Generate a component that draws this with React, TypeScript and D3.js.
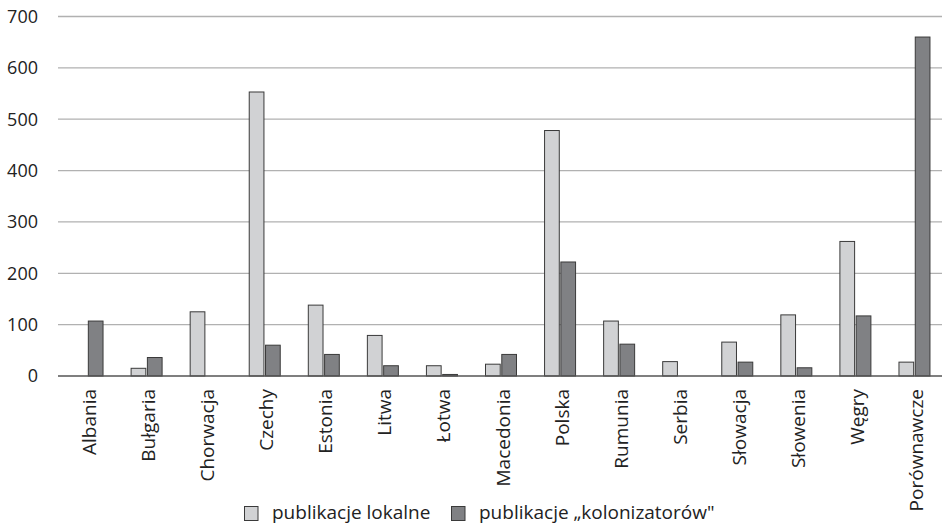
import * as d3 from 'd3';

const WIDTH = 942;
const HEIGHT = 528;
const PLOT = { left: 58, right: 944, top: 16.5, bottom: 376 };
const FONT = '"Open Sans", "Noto Sans", sans-serif';

const countries = [
  'Albania', 'Bułgaria', 'Chorwacja', 'Czechy', 'Estonia', 'Litwa', 'Łotwa',
  'Macedonia', 'Polska', 'Rumunia', 'Serbia', 'Słowacja', 'Słowenia', 'Węgry', 'Porównawcze',
];
const localPubs = [0, 15, 125, 553, 138, 79, 20, 23, 478, 107, 28, 66, 119, 262, 27];
const colonizerPubs = [107, 36, 0, 60, 42, 20, 3, 42, 222, 62, 0, 27, 16, 117, 660];
const seriesNames = ['publikacje lokalne', 'publikacje „kolonizatorów"'];
const seriesColors = ['#d1d2d4', '#808184'];
const yTicks = [0, 100, 200, 300, 400, 500, 600, 700];

export default function App() {
  const x = d3.scaleBand<string>().domain(countries).range([PLOT.left, PLOT.right]);
  const step = x.bandwidth();
  // two bars per country, 14px wide with a 3px gap, centred in the band
  const xInner = d3
    .scaleBand<number>()
    .domain([0, 1])
    .range([step / 2 - 15.5, step / 2 + 15.5])
    .paddingInner(3 / 31);
  const y = d3.scaleLinear().domain([0, 700]).range([PLOT.bottom, PLOT.top]);
  const series = [localPubs, colonizerPubs];

  return (
    <svg
      width={WIDTH}
      height={HEIGHT}
      viewBox={`0 0 ${WIDTH} ${HEIGHT}`}
      style={{ position: 'absolute', left: 0, top: 0, background: '#fff' }}
      fontFamily={FONT}
    >
      {/* Gridlines */}
      {yTicks.slice(1).map((t) => (
        <line key={t} x1={PLOT.left} x2={WIDTH} y1={y(t)} y2={y(t)} stroke="#b1b1b1" strokeWidth={1.3} />
      ))}

      {/* Y-axis labels */}
      {yTicks.map((t) => (
        <text key={t} x={38} y={y(t)} dy="0.36em" textAnchor="end" fontSize={18} fill="#222">
          {t}
        </text>
      ))}

      {/* Bars */}
      {countries.map((c, i) => (
        <g key={c} transform={`translate(${x(c)},0)`}>
          {series.map((vals, s) =>
            vals[i] > 0 ? (
              <rect
                key={s}
                x={xInner(s)}
                y={y(vals[i])}
                width={xInner.bandwidth()}
                height={y(0) - y(vals[i])}
                fill={seriesColors[s]}
                stroke="#3a3a3a"
                strokeWidth={1}
              />
            ) : null
          )}
        </g>
      ))}

      {/* Baseline */}
      <line x1={PLOT.left} x2={WIDTH} y1={y(0)} y2={y(0)} stroke="#555" strokeWidth={1.5} />

      {/* Category labels */}
      {countries.map((c) => (
        <text
          key={c}
          transform={`translate(${(x(c) ?? 0) + step / 2},389) rotate(-90)`}
          dy="0.45em"
          textAnchor="end"
          fontSize={19}
          fill="#222"
        >
          {c}
        </text>
      ))}

      {/* Legend */}
      {seriesNames.map((name, s) => {
        const lx = s === 0 ? 244 : 451;
        return (
          <g key={name} transform={`translate(${lx},506)`}>
            <rect x={0.5} y={0.5} width={13.5} height={14} fill={seriesColors[s]} stroke="#3a3a3a" strokeWidth={1} />
            <text x={28} y={13} fontSize={19} fill="#222">
              {name}
            </text>
          </g>
        );
      })}
    </svg>
  );
}
